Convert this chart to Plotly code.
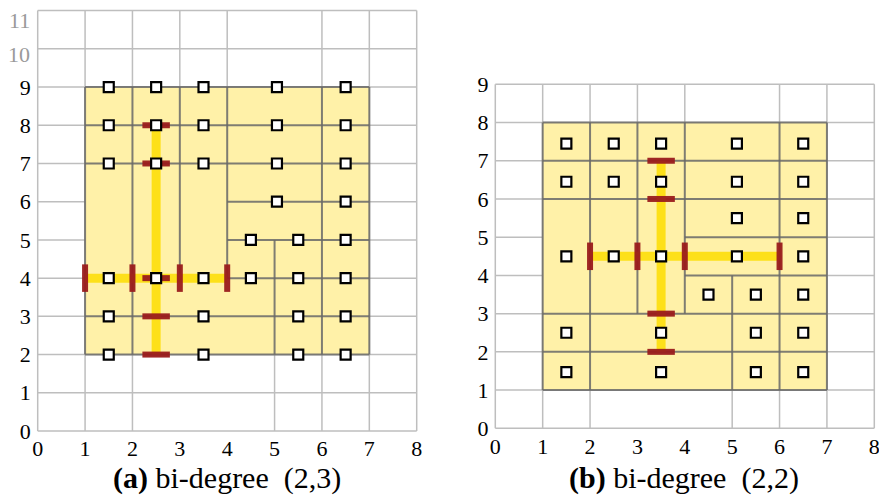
import plotly.graph_objects as go

# ---------------- data ----------------
x_ticks = [0, 1, 2, 3, 4, 5, 6, 7, 8]
a_y_ticks = [0, 1, 2, 3, 4, 5, 6, 7, 8, 9]
a_y_extra = [10, 11]          # grey labels above the mesh
b_y_ticks = [0, 1, 2, 3, 4, 5, 6, 7, 8, 9]
a_caption = "<b>(a)</b> bi-degree\u00a0\u00a0(2,3)"
b_caption = "<b>(b)</b> bi-degree\u00a0\u00a0(2,2)"

# panel (a): domain rectangle, mesh edges, light grid, anchors
a_domain = [1, 2, 7, 9]  # x0, y0, x1, y1
a_mesh = [(1, 2, 1, 9), (7, 2, 7, 9), (1, 2, 7, 2), (1, 9, 7, 9),
          (2, 2, 2, 9), (3, 4, 3, 9), (4, 4, 4, 9), (5, 2, 5, 5), (6, 2, 6, 9),
          (1, 8, 7, 8), (1, 7, 7, 7), (4, 6, 7, 6), (4, 5, 7, 5), (1, 4, 7, 4), (1, 3, 7, 3)]
a_grid = [(0, y, 8, y) for y in [0, 1, 2, 3, 4, 5, 6, 7, 8, 9, 10, 11]] + \
         [(0, 0, 0, 11), (1, 0, 1, 11), (2, 0, 2, 11), (3, 2, 3, 11), (4, 2, 4, 11),
          (5, 0, 5, 9), (6, 0, 6, 11), (7, 0, 7, 11), (8, 0, 8, 11)]
a_pts_x = [1.5, 2.5, 3.5, 5.05, 6.5,
           1.5, 2.5, 3.5, 5.05, 6.5,
           1.5, 2.5, 3.5, 5.05, 6.5,
           5.05, 6.5,
           4.5, 5.5, 6.5,
           1.5, 2.5, 3.5, 4.5, 5.5, 6.5,
           1.5, 3.5, 5.5, 6.5,
           1.5, 3.5, 5.5, 6.5]
a_pts_y = [9] * 5 + [8] * 5 + [7] * 5 + [6] * 2 + [5] * 3 + [4] * 6 + [3] * 4 + [2] * 4
a_support = [(2.5, 2, 2.5, 8), (1, 4, 4, 4)]
a_hbars = [(2.5, 8), (2.5, 7), (2.5, 4), (2.5, 3), (2.5, 2)]
a_vbars = [(1, 4), (2, 4), (3, 4), (4, 4)]

# panel (b)
b_domain = [1, 1, 7, 8]
b_mesh = [(1, 1, 1, 8), (7, 1, 7, 8), (1, 1, 7, 1), (1, 8, 7, 8),
          (2, 1, 2, 8), (3, 3, 3, 8), (4, 3, 4, 8), (5, 1, 5, 4), (6, 1, 6, 8),
          (1, 7, 7, 7), (1, 6, 7, 6), (4, 5, 7, 5), (4, 4, 7, 4), (1, 3, 7, 3), (1, 2, 7, 2)]
b_grid = [(0, y, 8, y) for y in [0, 1, 2, 3, 4, 5, 6, 7, 8, 9]] + \
         [(0, 0, 0, 9), (1, 0, 1, 9), (2, 0, 2, 9), (3, 1, 3, 9), (4, 1, 4, 9),
          (5, 0, 5, 8), (6, 0, 6, 9), (7, 0, 7, 9), (8, 0, 8, 9)]
b_pts_x = [1.5, 2.5, 3.5, 5.1, 6.5,
           1.5, 2.5, 3.5, 5.1, 6.5,
           5.1, 6.5,
           1.5, 2.5, 3.5, 5.1, 6.5,
           4.5, 5.5, 6.5,
           1.5, 3.5, 5.5, 6.5,
           1.5, 3.5, 5.5, 6.5]
b_pts_y = [7.45] * 5 + [6.45] * 5 + [5.5] * 2 + [4.5] * 5 + [3.5] * 3 + [2.5] * 4 + [1.47] * 4
b_support = [(3.5, 2, 3.5, 7), (2, 4.5, 6, 4.5)]
b_hbars = [(3.5, 7), (3.5, 6), (3.5, 3), (3.5, 2)]
b_vbars = [(2, 4.5), (3, 4.5), (4, 4.5), (6, 4.5)]

# ---------------- style ----------------
FILL = "#fff1a8"
MESH = "rgba(105,105,105,0.85)"
GRID = "#bebebe"
GOLD = "#fde01a"
RED = "#9a1c1c"
SERIF = "Liberation Serif"
HB = 0.29   # half-length of horizontal bar (x units)
VB = 0.36   # half-length of vertical bar (y units)
OFF = 8     # page body margin
W, H = 887 - OFF, 498 - OFF
PAD = 0.06


def segs(seglist):
    xs, ys = [], []
    for x0, y0, x1, y1 in seglist:
        xs += [x0, x1, None]
        ys += [y0, y1, None]
    return xs, ys


fig = go.Figure()


def panel(xa, ya, dom, mesh, grid, px, py, support, hbars, vbars):
    gx, gy = segs(grid)
    fig.add_trace(go.Scatter(x=gx, y=gy, mode="lines", line=dict(color=GRID, width=1.5),
                             xaxis=xa, yaxis=ya, hoverinfo="skip", showlegend=False))
    x0, y0, x1, y1 = dom
    fig.add_trace(go.Scatter(x=[x0, x1, x1, x0, x0], y=[y0, y0, y1, y1, y0], mode="lines",
                             fill="toself", fillcolor=FILL, line=dict(width=0),
                             xaxis=xa, yaxis=ya, hoverinfo="skip", showlegend=False))
    mx, my = segs(mesh)
    fig.add_trace(go.Scatter(x=mx, y=my, mode="lines", line=dict(color=MESH, width=2),
                             xaxis=xa, yaxis=ya, hoverinfo="skip", showlegend=False))
    sx, sy = segs(support)
    fig.add_trace(go.Scatter(x=sx, y=sy, mode="lines", line=dict(color=GOLD, width=9),
                             xaxis=xa, yaxis=ya, hoverinfo="skip", showlegend=False))
    bars = [(x - HB, y, x + HB, y) for x, y in hbars] + [(x, y - VB, x, y + VB) for x, y in vbars]
    bx, by = segs(bars)
    fig.add_trace(go.Scatter(x=bx, y=by, mode="lines", line=dict(color=RED, width=6),
                             opacity=0.95, xaxis=xa, yaxis=ya, hoverinfo="skip", showlegend=False))
    fig.add_trace(go.Scatter(x=px, y=py, mode="markers",
                             marker=dict(symbol="square", size=10, color="white",
                                         line=dict(color="black", width=2.2)),
                             xaxis=xa, yaxis=ya, hoverinfo="skip", showlegend=False))


panel("x", "y", a_domain, a_mesh, a_grid, a_pts_x, a_pts_y, a_support, a_hbars, a_vbars)
panel("x2", "y2", b_domain, b_mesh, b_grid, b_pts_x, b_pts_y, b_support, b_hbars, b_vbars)


def xdom(p0, p8):
    p0 -= OFF
    p8 -= OFF
    u = (p8 - p0) / 8
    return [(p0 - PAD * u) / W, (p8 + PAD * u) / W]


def ydom(p0, ptop, ymax):
    p0 -= OFF
    ptop -= OFF
    u = (p0 - ptop) / ymax
    return [(H - (p0 + PAD * u)) / H, (H - (ptop - PAD * u)) / H]


tickfont = dict(family=SERIF, size=22, color="black")
ax_common = dict(showgrid=False, zeroline=False, showline=False, ticks="",
                 tickfont=tickfont, fixedrange=True, automargin=False,
                 ticklabeloverflow="allow")

annotations = [
    dict(text=a_caption, x=(227 - OFF) / W, y=(H - (478 - OFF)) / H, xref="paper",
         yref="paper", showarrow=False, xanchor="center", yanchor="middle",
         font=dict(family=SERIF, size=30, color="black")),
    dict(text=b_caption, x=(684 - OFF) / W, y=(H - (478 - OFF)) / H, xref="paper",
         yref="paper", showarrow=False, xanchor="center", yanchor="middle",
         font=dict(family=SERIF, size=30, color="black")),
]
for v in a_y_extra:
    annotations.append(dict(text=str(v), x=0, y=v, xref="x", yref="y", showarrow=False,
                            xanchor="right", yanchor="middle", xshift=-7,
                            yshift=-10 if v == max(a_y_extra) else -6, borderpad=0,
                            font=dict(family=SERIF, size=22, color="#9a9a9a")))

fig.update_layout(
    width=W, height=H, margin=dict(l=0, r=0, t=0, b=0),
    paper_bgcolor="white", plot_bgcolor="white",
    xaxis=dict(domain=xdom(37.7, 416.7), range=[-PAD, 8 + PAD], tickvals=x_ticks,
               ticktext=[str(v) for v in x_ticks], anchor="y", **ax_common),
    yaxis=dict(domain=ydom(431, 10.6, 11), range=[-PAD, 11 + PAD], tickvals=a_y_ticks,
               ticktext=[str(v) for v in a_y_ticks], anchor="x", ticklabelstandoff=3,
               **ax_common),
    xaxis2=dict(domain=xdom(495.3, 874.3), range=[-PAD, 8 + PAD], tickvals=x_ticks,
                ticktext=[str(v) for v in x_ticks], anchor="y2", **ax_common),
    yaxis2=dict(domain=ydom(428.3, 84.3, 9), range=[-PAD, 9 + PAD], tickvals=b_y_ticks,
                ticktext=[str(v) for v in b_y_ticks], anchor="x2", ticklabelstandoff=3,
                **ax_common),
    annotations=annotations,
)

fig.write_html("out.html")
